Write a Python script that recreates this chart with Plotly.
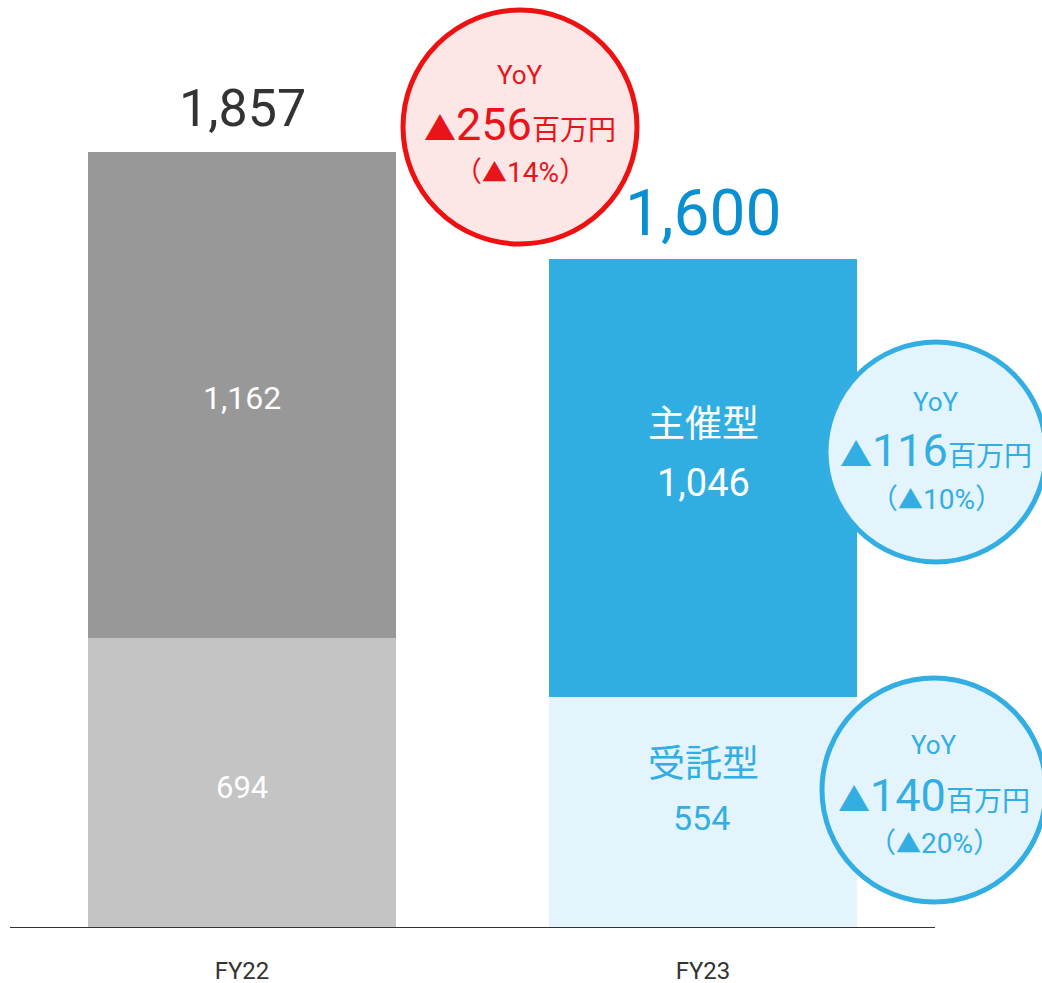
import plotly.graph_objects as go

# ---- data ----
categories = ["FY22", "FY23"]
consign_values = [694, 554]      # 受託型 (bottom segment)
host_values = [1162, 1046]       # 主催型 (top segment)
totals = [1857, 1600]
segment_names = ["受託型", "主催型"]

yoy_total = {"value": 256, "pct": 14}
yoy_host = {"value": 116, "pct": 10}
yoy_consign = {"value": 140, "pct": 20}

# ---- style ----
W, H = 1042, 983
MT, MB = 0, 55
PH = H - MT - MB
BASE = H - MB
FONT = "Roboto, 'Noto Sans CJK JP', sans-serif"
bottom_colors = ["#C4C4C4", "#E3F4FD"]
top_colors = ["#989898", "#30AEE2"]
RED = "#E8141A"
RED_FILL = "#FDE6E6"
BLUE = "#32AEE2"
BLUE_FILL = "#E3F4FD"
DARK_BLUE = "#0A90D0"


def px(x):
    return x / W


def py(y):
    return (BASE - y) / PH


fig = go.Figure()
fig.add_trace(go.Bar(x=categories, y=consign_values, name=segment_names[0],
                     marker=dict(color=bottom_colors, line=dict(width=0)),
                     width=0.668, hoverinfo="skip"))
fig.add_trace(go.Bar(x=categories, y=host_values, name=segment_names[1],
                     marker=dict(color=top_colors, line=dict(width=0)),
                     width=0.668, hoverinfo="skip"))

ann = []


def A(**kw):
    kw.setdefault("showarrow", False)
    kw.setdefault("xanchor", "center")
    kw.setdefault("yanchor", "middle")
    ann.append(kw)


# totals
A(x=categories[0], y=totals[0], text=f"{totals[0]:,}", yshift=44,
  font=dict(size=52, color="#333333", family=FONT))
A(x=categories[1], y=totals[1], text=f"{totals[1]:,}", yshift=46,
  font=dict(size=64, color=DARK_BLUE, family=FONT))
# FY22 segment labels
A(x=categories[0], y=consign_values[0] + host_values[0] / 2, text=f"{host_values[0]:,}",
  yshift=-3, font=dict(size=32, color="white", family=FONT))
A(x=categories[0], y=consign_values[0] / 2, text=f"{consign_values[0]:,}",
  yshift=-4, font=dict(size=31, color="white", family=FONT))
# FY23 segment labels
mid_top = consign_values[1] + host_values[1] / 2
A(x=categories[1], y=mid_top, text=segment_names[1], yshift=53,
  font=dict(size=37, color="white", family=FONT))
A(x=categories[1], y=mid_top, text=f"{host_values[1]:,}", yshift=-5,
  font=dict(size=38, color="white", family=FONT))
mid_bot = consign_values[1] / 2
A(x=categories[1], y=mid_bot, text=segment_names[0], yshift=48,
  font=dict(size=37, color=BLUE, family=FONT))
A(x=categories[1], y=mid_bot, text=f"{consign_values[1]:,}", xshift=-2, yshift=-6,
  font=dict(size=34, color=BLUE, family=FONT))

shapes = []


def badge(cx, cy, r, line_color, fill, text_color, info, ys):
    shapes.append(dict(type="circle", xref="paper", yref="paper",
                       x0=px(cx - r), x1=px(cx + r), y0=py(cy + r), y1=py(cy - r),
                       line=dict(color=line_color, width=5), fillcolor=fill, layer="above"))
    A(xref="paper", yref="paper", x=px(cx), y=py(ys[0]), text="YoY",
      font=dict(size=26, color=text_color, family=FONT))
    A(xref="paper", yref="paper", x=px(cx), y=py(ys[1]),
      text=(f"<span style='font-size:32px'>▲</span>{info['value']}"
            f"<span style='font-size:28px'>百万円</span>"),
      font=dict(size=45, color=text_color, family=FONT))
    A(xref="paper", yref="paper", x=px(cx), y=py(ys[2]),
      text=f"（<span style='font-size:25px'>▲</span>{info['pct']}%）",
      font=dict(size=28, color=text_color, family=FONT))


badge(520, 127, 117, "#EE1111", RED_FILL, RED, yoy_total, (75, 125, 173))
badge(936, 452, 110, BLUE, BLUE_FILL, BLUE, yoy_host, (402, 450, 500))
badge(934, 790, 112, BLUE, BLUE_FILL, BLUE, yoy_consign, (745, 795, 843))

# baseline
shapes.append(dict(type="line", xref="paper", yref="y", x0=px(10), x1=px(935), y0=0, y1=0,
                   line=dict(color="#333333", width=2), layer="above"))

scale = (BASE - 152) / totals[0]
ymax = PH / scale
cat_gap = 461.0
xmin = -242 / cat_gap
xmax = 1 + (W - 703) / cat_gap

fig.update_layout(
    width=W, height=H,
    margin=dict(l=0, r=0, t=MT, b=MB, pad=0, autoexpand=False),
    barmode="stack",
    showlegend=False,
    plot_bgcolor="white", paper_bgcolor="white",
    xaxis=dict(type="category", range=[xmin, xmax], showgrid=False, zeroline=False,
               showline=False, ticks="", ticklabelstandoff=26, automargin=False,
               tickfont=dict(size=24, color="#333333", family=FONT)),
    yaxis=dict(range=[0, ymax], visible=False, showgrid=False, zeroline=False,
               automargin=False),
    annotations=ann,
    shapes=shapes,
    hovermode=False,
)

fig.write_html("out.html", config={"displayModeBar": False},
               post_script="document.body.style.margin='0';document.body.style.overflow='hidden';")
